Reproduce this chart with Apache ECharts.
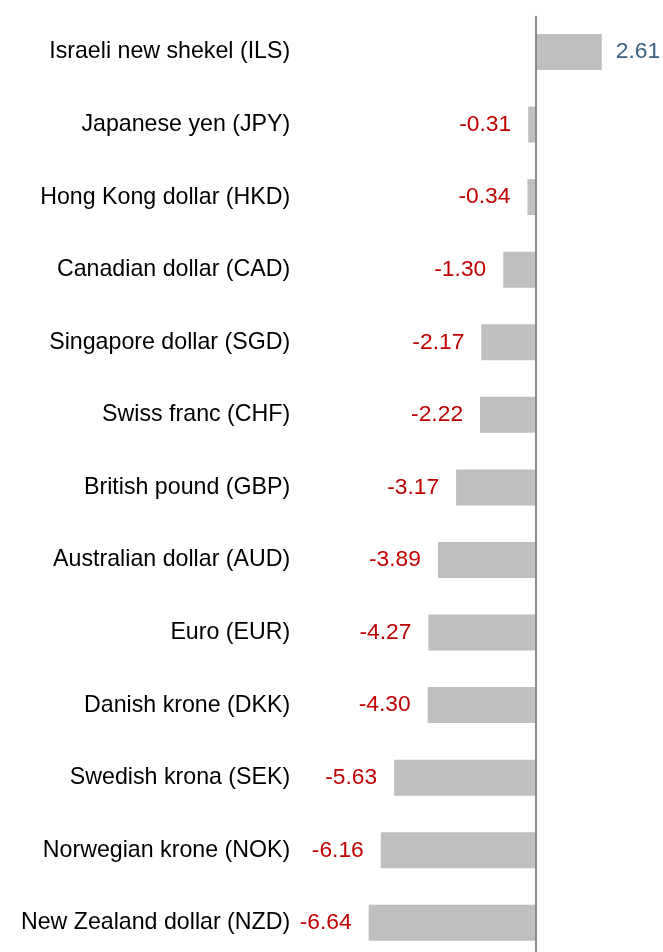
<!DOCTYPE html>
<html>
<head>
<meta charset="utf-8">
<script src="https://cdn.jsdelivr.net/npm/echarts@6/dist/echarts.min.js"></script>
<style>
  html, body { margin: 0; padding: 0; background: #ffffff; overflow: hidden; }
  #chart { width: 663px; height: 962px; }
</style>
</head>
<body>
<div id="chart"></div>
<script>
// Currency change, percent
const currencies = [
  'Israeli new shekel (ILS)',
  'Japanese yen (JPY)',
  'Hong Kong dollar (HKD)',
  'Canadian dollar (CAD)',
  'Singapore dollar (SGD)',
  'Swiss franc (CHF)',
  'British pound (GBP)',
  'Australian dollar (AUD)',
  'Euro (EUR)',
  'Danish krone (DKK)',
  'Swedish krona (SEK)',
  'Norwegian krone (NOK)',
  'New Zealand dollar (NZD)'
];
const changes = [2.61, -0.31, -0.34, -1.30, -2.17, -2.22, -3.17, -3.89, -4.27, -4.30, -5.63, -6.16, -6.64];

const FONT = '"Liberation Sans", Arial, sans-serif';
const POS_COLOR = '#3b6182';
const NEG_COLOR = '#c00000';

const chart = echarts.init(document.getElementById('chart'), null, { renderer: 'canvas' });

const barData = changes.map(v => ({
  value: v,
  label: {
    position: v >= 0 ? 'right' : 'left',
    distance: v >= 0 ? 14 : 17,
    color: v >= 0 ? POS_COLOR : NEG_COLOR
  }
}));

chart.setOption({
  animation: false,
  backgroundColor: '#ffffff',
  grid: { left: 309.2, right: 1, top: 15.7, height: 943.4, containLabel: false },
  xAxis: {
    type: 'value',
    min: -9,
    max: 5,
    show: false
  },
  yAxis: {
    type: 'category',
    data: currencies,
    inverse: true,
    axisLine: { show: false, onZero: false },
    axisTick: { show: false },
    splitLine: { show: false },
    axisLabel: {
      margin: 19,
      color: '#000000',
      fontFamily: FONT,
      fontSize: 23.2
    }
  },
  series: [{
    type: 'bar',
    data: barData,
    barWidth: 36,
    itemStyle: { color: '#bfbfbf' },
    label: {
      show: true,
      fontFamily: FONT,
      fontSize: 22.8,
      formatter: p => p.value.toFixed(2)
    },
    markLine: {
      silent: true,
      symbol: 'none',
      label: { show: false },
      lineStyle: { color: '#8c8c8c', width: 2, type: 'solid' },
      data: [{ xAxis: 0 }]
    }
  }]
});
</script>
</body>
</html>
